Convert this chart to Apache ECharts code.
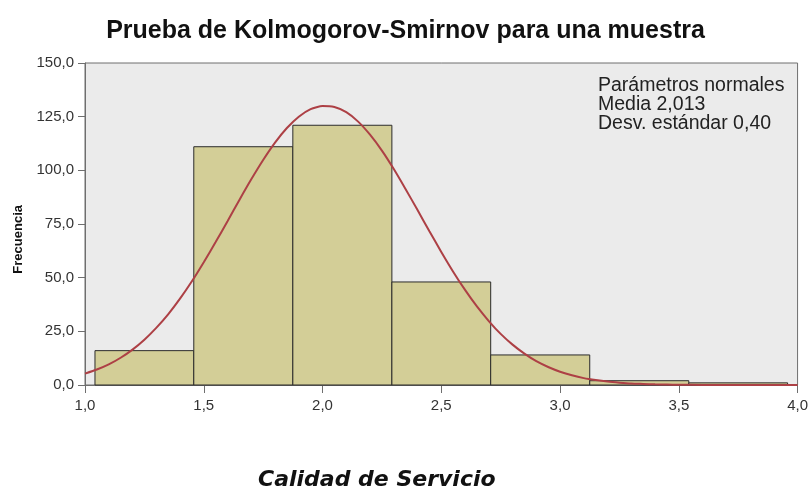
<!DOCTYPE html>
<html>
<head>
<meta charset="utf-8">
<style>
  html, body { margin: 0; padding: 0; background: #fff; }
  #chart-container { width: 811px; height: 492px; }
</style>
</head>
<body>
<div id="chart-container"></div>
<script src="https://fastly.jsdelivr.net/npm/echarts@6.0.0/dist/echarts.min.js"></script>
<script type="text/javascript">
// histogram bins (edges) and counts
var binEdges = [1.042, 1.458, 1.875, 2.292, 2.708, 3.125, 3.542, 3.958];
var frequencies = [16, 111, 121, 48, 14, 2, 1];

// fitted normal curve, read at steps of 0.05
var curveX = [1.0, 1.05, 1.1, 1.15, 1.2, 1.25, 1.3, 1.35, 1.4, 1.45, 1.5, 1.55, 1.6, 1.65, 1.7, 1.75,
              1.8, 1.85, 1.9, 1.95, 2.0, 2.05, 2.1, 2.15, 2.2, 2.25, 2.3, 2.35, 2.4, 2.45, 2.5, 2.55,
              2.6, 2.65, 2.7, 2.75, 2.8, 2.85, 2.9, 2.95, 3.0, 3.05, 3.1, 3.15, 3.2, 3.25, 3.3, 3.35,
              3.4, 3.45, 3.5, 3.6, 3.7, 3.8, 3.9, 4.0];
var curveY = [5.3, 7.2, 9.6, 12.7, 16.5, 21.1, 26.6, 32.9, 40.2, 48.3, 57.2, 66.6, 76.3, 86.2, 95.8, 104.8,
              112.9, 119.7, 125.0, 128.5, 130.0, 129.5, 127.1, 122.7, 116.6, 109.2, 100.6, 91.2, 81.5, 71.6, 62.0, 52.8,
              44.3, 36.6, 29.8, 23.8, 18.8, 14.6, 11.1, 8.4, 6.2, 4.5, 3.2, 2.3, 1.6, 1.1, 0.7, 0.5,
              0.3, 0.2, 0.1, 0.05, 0, 0, 0, 0];

var yTicks = [0, 25, 50, 75, 100, 125, 150];
var xTicks = [1.0, 1.5, 2.0, 2.5, 3.0, 3.5, 4.0];

var noteLines = ['Parámetros normales', 'Media 2,013', 'Desv. estándar 0,40'];

var barData = [];
for (var i = 0; i < frequencies.length; i++) {
    barData.push([binEdges[i], binEdges[i + 1], frequencies[i]]);
}
var curveData = curveX.map(function (x, i) { return [x, curveY[i]]; });

function commaFmt(v) {
    return v.toFixed(1).replace('.', ',');
}

var dom = document.getElementById('chart-container');
var myChart = echarts.init(dom, null, { renderer: 'canvas' });

var option = {
    backgroundColor: '#ffffff',
    animation: false,
    title: {
        text: 'Prueba de Kolmogorov-Smirnov para una muestra',
        left: 'center',
        top: 14,
        textStyle: {
            fontFamily: 'Liberation Sans',
            fontWeight: 'bold',
            fontSize: 25,
            color: '#111'
        }
    },
    grid: {
        left: 85,
        right: 13,
        top: 63,
        bottom: 107,
        show: true,
        backgroundColor: '#ebebeb',
        borderColor: '#6e6e6e',
        borderWidth: 1
    },
    graphic: [
        {
            type: 'text',
            left: 598,
            top: 76,
            style: {
                text: noteLines.join('\n'),
                font: '19.5px "Liberation Sans"',
                lineHeight: 19,
                fill: '#222'
            }
        },
        {
            type: 'text',
            left: 12,
            top: 205,
            rotation: Math.PI / 2,
            originX: 0,
            originY: 0,
            style: {
                text: 'Frecuencia',
                font: 'bold 13px "Liberation Sans"',
                fill: '#111'
            }
        },
        {
            type: 'text',
            left: 258,
            top: 469,
            style: {
                text: 'Calidad de Servicio',
                font: 'italic bold 22px "DejaVu Sans"',
                fill: '#111'
            }
        }
    ],
    xAxis: {
        type: 'value',
        min: 1,
        max: 4,
        interval: 0.5,
        axisLine: { show: true, lineStyle: { color: '#6e6e6e', width: 1 } },
        axisTick: { show: true, length: 8, lineStyle: { color: '#6e6e6e' } },
        splitLine: { show: false },
        axisLabel: {
            margin: 13,
            fontFamily: 'Liberation Sans',
            fontSize: 15,
            color: '#333',
            formatter: function (v) { return xTicks.indexOf(v) >= 0 ? commaFmt(v) : ''; }
        }
    },
    yAxis: {
        type: 'value',
        min: 0,
        max: 150,
        interval: 25,
        axisLine: { show: true, lineStyle: { color: '#6e6e6e', width: 1 } },
        axisTick: { show: true, length: 7, lineStyle: { color: '#6e6e6e' } },
        splitLine: { show: false },
        axisLabel: {
            margin: 11,
            fontFamily: 'Liberation Sans',
            fontSize: 15,
            color: '#333',
            formatter: function (v) { return yTicks.indexOf(v) >= 0 ? commaFmt(v) : ''; }
        }
    },
    series: [
        {
            type: 'custom',
            data: barData,
            encode: { x: [0, 1], y: 2 },
            renderItem: function (params, api) {
                var p0 = api.coord([api.value(0), 0]);
                var p1 = api.coord([api.value(1), api.value(2)]);
                return {
                    type: 'rect',
                    shape: { x: p0[0], y: p1[1], width: p1[0] - p0[0], height: p0[1] - p1[1] },
                    style: { fill: '#d3ce97', stroke: '#2b2b2b', lineWidth: 1 }
                };
            },
            z: 2
        },
        {
            type: 'line',
            data: curveData,
            smooth: 0.2,
            showSymbol: false,
            lineStyle: { color: '#ad4045', width: 2 },
            z: 3
        }
    ]
};

myChart.setOption(option);
window.addEventListener('resize', myChart.resize);
</script>
</body>
</html>
